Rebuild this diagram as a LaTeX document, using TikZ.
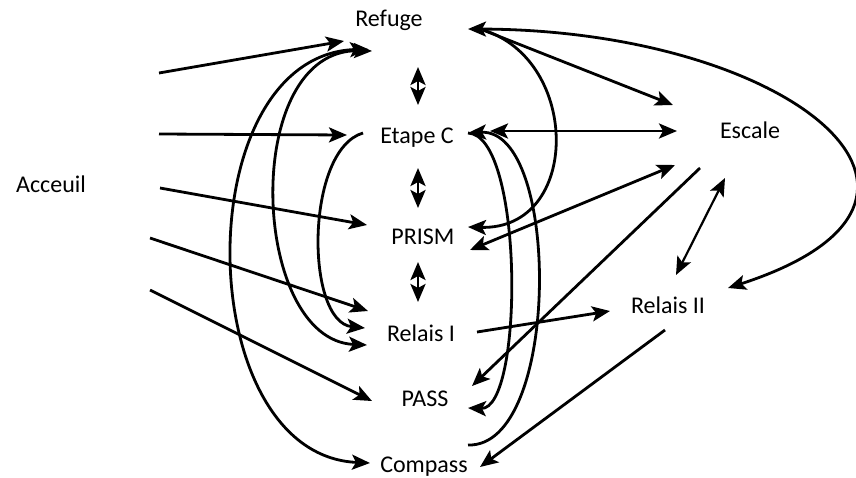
\documentclass[tikz,border=0pt]{standalone}
\usepackage{fontspec}
\setmainfont{Carlito}
\usepackage{tikz}
\usetikzlibrary{arrows.meta}
\usetikzlibrary{calc}
\tikzstyle{site} = [inner sep=0pt,text height=17pt,text depth=5pt]
\tikzstyle{connector} = [->,>={Stealth[length=18pt,width=15pt,inset=4pt]},line width=2.8pt]

\begin{document}
\begin{tikzpicture}[x=1pt,y=-1pt]
\fontsize{24}{28}\selectfont
  \useasboundingbox (0,0) rectangle (856,477);

  \node[site] (acceuil) at (51,186) {Acceuil};

  \node[site] (refuge)  at (389,20)  {Refuge};
  \node[site] (etape)   at (417,137) {Etape C};
  \node[site] (prism)   at (423,238) {PRISM};
  \node[site] (relaisA) at (421,335) {Relais I};
  \node[site] (pass)    at (425,400) {PASS};
  \node[site] (compass) at (424,466) {Compass};

  \node[site] (escale)  at (750,132) {Escale};
  \node[site] (relaisB) at (668,307) {Relais II};

% arrows leaving the Acceuil
\draw [connector] ($(acceuil)+(108,-113)$) -- ($(refuge)+(-45,21)$);
\draw [connector] ($(acceuil)+(108,-52)$) -- ($(etape)+(-70,-2)$);
\draw [connector] ($(acceuil)+(109,2)$) -- ($(prism)+(-56,-13)$);
\draw [connector] ($(acceuil)+(99,52)$) -- ($(relaisA)+(-53,-24)$);
\draw [connector] ($(acceuil)+(99,104)$) -- ($(pass)+(-53,1)$);

% the small two-way arrows of the middle column
\draw [connector,<->] ($(refuge)+(29,47)$) -- ($(etape)+(1,-32)$);
\draw [connector,<->] ($(etape)+(1,31)$) -- ($(prism)+(-5,-30)$);
\draw [connector,<->] ($(prism)+(-5,24)$) -- ($(relaisA)+(-3,-33)$);

% curves on the left
\draw [connector,<->] ($(refuge)+(-21,29)$) .. controls (186,56) and (190,455) .. ($(compass)+(-54,-3)$);
\draw [connector,<->] ($(refuge)+(-17,31)$) .. controls (240,48) and (250,340) .. ($(relaisA)+(-54,10)$);
\draw [connector] ($(etape)+(-54,-4)$) .. controls (305,150) and (305,322) .. ($(relaisA)+(-56,-7)$);

% curves on the right
\draw [connector] ($(etape)+(51,-4)$) .. controls (524,135) and (524,410) .. ($(pass)+(43,8)$);
\draw [connector] ($(compass)+(44,-21)$) .. controls (561,448) and (561,128) .. ($(etape)+(51,-4)$);
\draw [connector] ($(refuge)+(94,10)$) .. controls (581,60) and (581,230) .. ($(prism)+(45,-11)$);
\draw [connector,<->] ($(refuge)+(79,9)$) .. controls (790,30) and (1000,200) .. ($(relaisB)+(60,-19)$);

% links with Escale and Relais II
\draw [connector] ($(refuge)+(94,10)$) -- ($(escale)+(-77,-27)$);
\draw [connector,<->] ($(etape)+(73,-6)$) -- ($(escale)+(-73,-1)$);
\draw [connector,<->] ($(prism)+(47,12)$) -- ($(escale)+(-75,33)$);
\draw [connector] ($(escale)+(-50,36)$) -- ($(pass)+(47,-14)$);
\draw [connector,<->,line width=2.2pt] ($(escale)+(-25,46)$) -- ($(relaisB)+(8,-32)$);
\draw [connector] ($(relaisA)+(56,-3)$) -- ($(relaisB)+(-58,4)$);
\draw [connector] ($(relaisB)+(-3,23)$) -- ($(compass)+(56,1)$);
\end{tikzpicture}
\end{document}
